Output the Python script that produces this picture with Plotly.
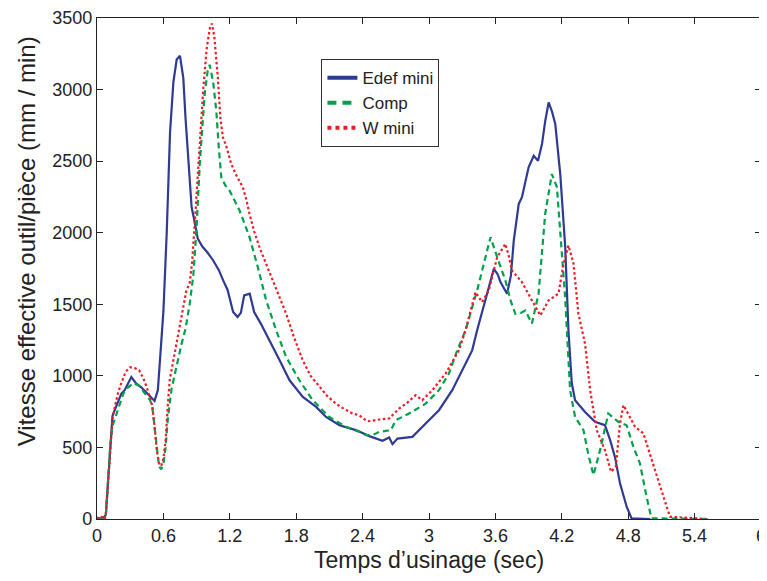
import plotly.graph_objects as go

# ---- data ----
edef_t = [0, 0.03, 0.06, 0.08, 0.10, 0.12, 0.13, 0.14, 0.16, 0.19, 0.22, 0.25, 0.27, 0.31, 0.35, 0.40, 0.45,
          0.50, 0.52, 0.55, 0.57, 0.60, 0.63, 0.66, 0.69, 0.72, 0.75, 0.78, 0.80, 0.83, 0.855, 0.88, 0.91,
          0.95, 1.00, 1.05, 1.10, 1.14, 1.18, 1.23, 1.27, 1.30, 1.33, 1.38, 1.42, 1.48, 1.56, 1.65, 1.74,
          1.86, 1.98, 2.07, 2.19, 2.34, 2.46, 2.58, 2.64, 2.67, 2.715, 2.85, 2.97, 3.09, 3.21, 3.33, 3.39,
          3.435, 3.50, 3.55, 3.586, 3.62, 3.646, 3.705, 3.74, 3.766, 3.811, 3.84, 3.90, 3.946, 3.985, 4.021,
          4.05, 4.081, 4.11, 4.141, 4.186, 4.231, 4.26, 4.29, 4.32, 4.41, 4.50, 4.59, 4.637, 4.68, 4.726,
          4.786, 4.83, 5.0]
edef_v = [0, 5, 10, 30, 250, 520, 620, 720, 760, 820, 876, 900, 934, 992, 950, 920, 880,
          840, 825, 900, 1100, 1450, 2000, 2700, 3050, 3210, 3236, 3080, 2800, 2450, 2178, 2085, 1960,
          1905, 1860, 1806, 1740, 1667, 1600, 1446, 1411, 1440, 1562, 1574, 1446, 1365, 1248, 1109, 969,
          853, 783, 713, 655, 621, 579, 546, 570, 523, 562, 574, 667, 760, 900, 1086, 1178,
          1318, 1500, 1650, 1748, 1710, 1655, 1574, 1700, 1945, 2201, 2248, 2457, 2538, 2503, 2620,
          2780, 2910, 2850, 2759, 2410, 1899, 1318, 950, 830, 748, 679, 655, 551, 434, 249,
          86, 5, 0]

comp_t = [0, 0.05, 0.08, 0.10, 0.12, 0.14, 0.17, 0.20, 0.24, 0.28, 0.33, 0.38, 0.43, 0.48, 0.50, 0.52,
          0.54, 0.56, 0.58, 0.60, 0.62, 0.64, 0.673, 0.70, 0.74, 0.763, 0.80, 0.838, 0.87, 0.898, 0.93,
          0.973, 1.00, 1.018, 1.05, 1.078, 1.10, 1.123, 1.16, 1.198, 1.24, 1.288, 1.33, 1.378, 1.453,
          1.529, 1.619, 1.709, 1.829, 1.949, 2.099, 2.249, 2.369, 2.43, 2.49, 2.55, 2.655, 2.70, 2.82,
          2.97, 3.09, 3.18, 3.255, 3.33, 3.435, 3.50, 3.556, 3.616, 3.69, 3.74, 3.78, 3.83, 3.87, 3.93,
          3.99, 4.05, 4.11, 4.156, 4.20, 4.23, 4.246, 4.275, 4.32, 4.396, 4.44, 4.486, 4.546, 4.62, 4.71,
          4.786, 4.847, 4.906, 4.966, 5.01, 5.52]
comp_v = [0, 5, 30, 250, 520, 650, 720, 800, 880, 920, 950, 930, 880, 830, 780, 650,
          480, 370, 347, 380, 500, 700, 906, 1000, 1150, 1220, 1330, 1504, 1700, 2015, 2500,
          2968, 3130, 3173, 3050, 2852, 2600, 2387, 2330, 2294, 2230, 2155, 2070, 1969, 1760,
          1527, 1318, 1132, 969, 830, 713, 644, 609, 586, 586, 609, 621, 690, 737,
          806, 900, 1016, 1178, 1318, 1597, 1800, 1969, 1829, 1667, 1520, 1434, 1440, 1457, 1365,
          1574, 2132, 2410, 2317, 1899, 1550, 1318, 900, 713, 620, 450, 307, 481, 737, 679,
          655, 504, 388, 155, 5, 0]

wmin_t = [0, 0.02, 0.05, 0.07, 0.08, 0.10, 0.12, 0.14, 0.16, 0.19, 0.22, 0.26, 0.30, 0.34, 0.38, 0.42,
          0.45, 0.48, 0.50, 0.52, 0.54, 0.56, 0.58, 0.60, 0.62, 0.64, 0.658, 0.70, 0.733, 0.77, 0.808,
          0.838, 0.86, 0.883, 0.91, 0.928, 0.96, 0.99, 1.02, 1.039, 1.06, 1.092, 1.115, 1.138, 1.17,
          1.213, 1.26, 1.318, 1.35, 1.378, 1.42, 1.468, 1.54, 1.619, 1.709, 1.78, 1.859, 1.93, 2.009,
          2.08, 2.159, 2.23, 2.309, 2.369, 2.43, 2.459, 2.55, 2.64, 2.685, 2.73, 2.80, 2.88, 2.94, 3.03,
          3.15, 3.27, 3.33, 3.42, 3.48, 3.54, 3.58, 3.616, 3.69, 3.72, 3.75, 3.84, 3.93, 4.006, 4.04,
          4.08, 4.17, 4.216, 4.26, 4.306, 4.35, 4.41, 4.456, 4.516, 4.59, 4.645, 4.688, 4.726, 4.757,
          4.81, 4.862, 4.937, 5.027, 5.10, 5.177, 5.50]
wmin_v = [0, 20, 10, 0, 30, 250, 540, 700, 780, 880, 950, 1030, 1060, 1055, 1040, 980,
          920, 850, 790, 650, 480, 390, 370, 420, 550, 800, 978, 1150, 1290, 1420, 1597,
          1650, 1800, 2062, 2400, 2596, 3000, 3280, 3430, 3461, 3370, 3084, 2800, 2666, 2600,
          2480, 2400, 2317, 2230, 2132, 2010, 1899, 1760, 1620, 1434, 1270, 1109, 1000, 922,
          860, 806, 770, 737, 725, 690, 683, 695, 702, 737, 772, 810, 865, 830, 900,
          1016, 1178, 1318, 1585, 1515, 1597, 1720, 1829, 1922, 1840, 1736, 1655, 1527, 1422, 1470,
          1527, 1574, 1783, 1911, 1783, 1434, 1225, 900, 620, 481, 330, 365, 667, 795,
          720, 644, 598, 388, 202, 16, 0]

series_names = ["Edef mini", "Comp", "W mini"]
series_colors = ["#2E3A94", "#00A14B", "#EE1C25"]
series_dash = ["solid", "6px,4px", "2.5px,2.5px"]
legend_dash = ["solid", "9px,6px", "4px,4px"]

x_ticks = [0, 0.6, 1.2, 1.8, 2.4, 3, 3.6, 4.2, 4.8, 5.4, 6]
x_tick_labels = ["0", "0.6", "1.2", "1.8", "2.4", "3", "3.6", "4.2", "4.8", "5.4", "6"]
y_ticks = [0, 500, 1000, 1500, 2000, 2500, 3000, 3500]
x_title = "Temps d’usinage (sec)"
y_title = "Vitesse effective outil/pièce (mm / min)"

FONT = "Liberation Sans, Arial, sans-serif"
INK = "#222222"

fig = go.Figure()
for (tx, vy), name, col, dash in zip([(edef_t, edef_v), (comp_t, comp_v), (wmin_t, wmin_v)],
                                     series_names, series_colors, series_dash):
    fig.add_trace(go.Scatter(x=tx, y=vy, mode="lines", name=name, showlegend=False,
                             line=dict(color=col, width=2.2, dash=dash)))
# legend samples drawn thicker, as in the reference
for name, col, dash in zip(series_names, series_colors, legend_dash):
    fig.add_trace(go.Scatter(x=[None], y=[None], mode="lines", name=name,
                             line=dict(color=col, width=4, dash=dash)))

axis_common = dict(showgrid=False, zeroline=False, showline=True, linecolor=INK, linewidth=1.2,
                   mirror="allticks", ticks="inside", ticklen=6, tickcolor=INK, automargin=False,
                   ticklabeloverflow="allow",
                   tickfont=dict(family=FONT, size=18, color=INK))

fig.update_xaxes(range=[0, 6], tickvals=x_ticks, ticktext=x_tick_labels,
                 title=dict(text=x_title, font=dict(family=FONT, size=23, color=INK), standoff=7),
                 **axis_common)
fig.update_yaxes(range=[0, 3500], tickvals=y_ticks, **axis_common)

# y-axis title placed as a rotated paper-anchored label (sits a little above the plot centre)
fig.add_annotation(text=y_title, textangle=-90, xref="paper", yref="paper",
                   x=-0.105, y=0.555, xanchor="center", yanchor="middle", showarrow=False,
                   font=dict(family=FONT, size=24, color=INK))

# the page body adds an 8 px offset, so the figure is 8 px smaller and margins shifted
fig.update_layout(
    width=759, height=573,
    margin=dict(l=89, r=6, t=10, b=62, autoexpand=False),
    paper_bgcolor="white", plot_bgcolor="white",
    font=dict(family=FONT, color=INK),
    legend=dict(x=0.338, y=0.918, xanchor="left", yanchor="top",
                bgcolor="white", bordercolor="#333333", borderwidth=1,
                font=dict(family=FONT, size=17, color=INK),
                itemwidth=30, tracegroupgap=0),
    showlegend=True,
)

fig.write_html("out.html")
